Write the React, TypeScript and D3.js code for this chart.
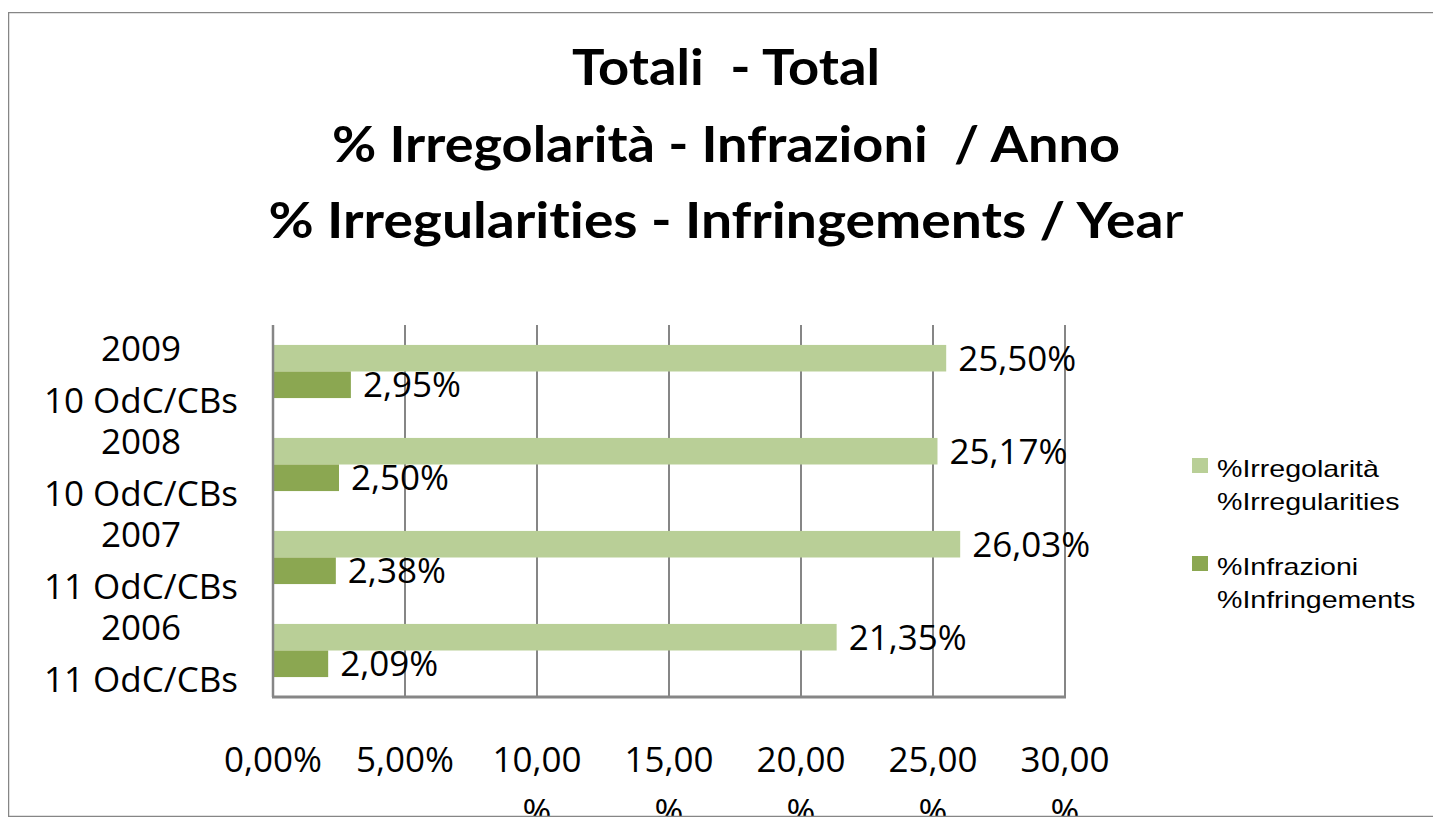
import React from 'react';
import * as d3 from 'd3';

// dati
const categories = ['2009', '2008', '2007', '2006'];
const categorySub = ['10 OdC/CBs', '10 OdC/CBs', '11 OdC/CBs', '11 OdC/CBs'];
const irregolarita = [25.5, 25.17, 26.03, 21.35];
const infrazioni = [2.95, 2.5, 2.38, 2.09];
const xTicks = [0, 5, 10, 15, 20, 25, 30];
const seriesKeys = ['irr', 'inf'];
const seriesLabels = [
  ['%Irregolarità', '%Irregularities'],
  ['%Infrazioni', '%Infringements'],
];
const titleLines = ['Totali  - Total', '% Irregolarità - Infrazioni  / Anno', '% Irregularities - Infringements / Yea'];
const titleWidths = [308, 788, 915];

const W = 1433;
const H = 819;
const colors = ['#B9CF97', '#8BA751'];
const gridColor = '#868686';
const bodyFont = '"Open Sans", sans-serif';

const fmt = (v: number) => v.toFixed(2).replace('.', ',') + '%';

export default function App() {
  const margin = { top: 325, right: 368, bottom: 122, left: 273 };

  const x = d3.scaleLinear().domain([0, 30]).range([margin.left, W - margin.right]);
  const y = d3
    .scaleBand()
    .domain(categories)
    .range([margin.top, H - margin.bottom])
    .paddingInner(0.75 / 1.75)
    .paddingOuter(0.75 / 3.5);
  const ySub = d3.scaleBand().domain(seriesKeys).range([0, y.bandwidth()]);

  const rows = categories.map((c, i) => ({ cat: c, sub: categorySub[i], values: [irregolarita[i], infrazioni[i]] }));
  const step = y.step();

  return (
    <svg width={W} height={H} style={{ position: 'absolute', left: 0, top: 0, background: '#fff' }}>
      <defs>
        <clipPath id="frame">
          <rect x={8} y={12} width={W} height={805} />
        </clipPath>
      </defs>
      <rect x={0} y={0} width={W} height={H} fill="#fff" />
      <g clipPath="url(#frame)">
        {/* titolo */}
        {titleLines.map((t, i) => (
          <text
            key={t}
            x={726}
            y={85 + i * 76.5}
            textAnchor="middle"
            fontFamily='Lato, "Open Sans", sans-serif'
            fontWeight={700}
            fontSize={50}
            textLength={titleWidths[i]}
            lengthAdjust="spacingAndGlyphs"
            fill="#000"
            style={{ whiteSpace: 'pre', fontVariantLigatures: 'none' }}
          >
            {t}
            {i === 2 && <tspan fontWeight={400}>r</tspan>}
          </text>
        ))}

        {/* griglia verticale */}
        {xTicks.map((t) => (
          <line key={t} x1={x(t)} x2={x(t)} y1={margin.top} y2={H - margin.bottom} stroke={gridColor} strokeWidth={2} />
        ))}

        {/* barre */}
        {rows.map((r) => (
          <g key={r.cat} transform={`translate(0,${y(r.cat)})`}>
            {r.values.map((v, j) => (
              <rect
                key={seriesKeys[j]}
                x={x(0)}
                y={ySub(seriesKeys[j])}
                width={x(v) - x(0)}
                height={ySub.bandwidth()}
                fill={colors[j]}
              />
            ))}
            {r.values.map((v, j) => (
              <text
                key={'l' + seriesKeys[j]}
                x={x(v) + 12}
                y={(ySub(seriesKeys[j]) || 0) + ySub.bandwidth() / 2 + 12.5}
                fontFamily={bodyFont}
                fontSize={35}
                fill="#000"
              >
                {fmt(v)}
              </text>
            ))}
          </g>
        ))}

        {/* assi */}
        <line x1={x(0)} x2={x(0)} y1={margin.top} y2={H - margin.bottom} stroke={gridColor} strokeWidth={2.5} />
        <line x1={x(0) - 1} x2={x(30) + 1} y1={H - margin.bottom} y2={H - margin.bottom} stroke={gridColor} strokeWidth={3} />

        {/* etichette categorie */}
        {rows.map((r) => {
          const cy = (y(r.cat) || 0) - (step - y.bandwidth()) / 2 + step / 2;
          return (
            <g key={'c' + r.cat} fontFamily={bodyFont} fontSize={35} textAnchor="middle" fill="#000">
              <text x={141} y={cy - 11}>{r.cat}</text>
              <text x={141} y={cy + 41}>{r.sub}</text>
            </g>
          );
        })}

        {/* etichette asse x */}
        {xTicks.map((t) => {
          const lab = fmt(t);
          const wrap = lab.length > 5;
          return (
            <g key={'t' + t} fontFamily={bodyFont} fontSize={35} textAnchor="middle" fill="#000">
              <text x={x(t)} y={772}>{wrap ? lab.slice(0, -1) : lab}</text>
              {wrap && <text x={x(t)} y={824}>%</text>}
            </g>
          );
        })}

        {/* legenda */}
        {seriesLabels.map((lines, i) => (
          <g key={seriesKeys[i]} transform={`translate(1192,${458 + i * 98})`}>
            <rect x={0} y={0} width={16} height={15} fill={colors[i]} />
            <g transform="translate(25,0) scale(1.19,1)" fontFamily='"Liberation Sans", Arial, sans-serif' fontSize={24} fill="#000">
              <text x={0} y={19}>{lines[0]}</text>
              <text x={0} y={52}>{lines[1]}</text>
            </g>
          </g>
        ))}

        {/* cornice */}
        <rect x={8} y={12} width={W + 10} height={805} fill="none" stroke={gridColor} strokeWidth={2.5} />
      </g>
    </svg>
  );
}
